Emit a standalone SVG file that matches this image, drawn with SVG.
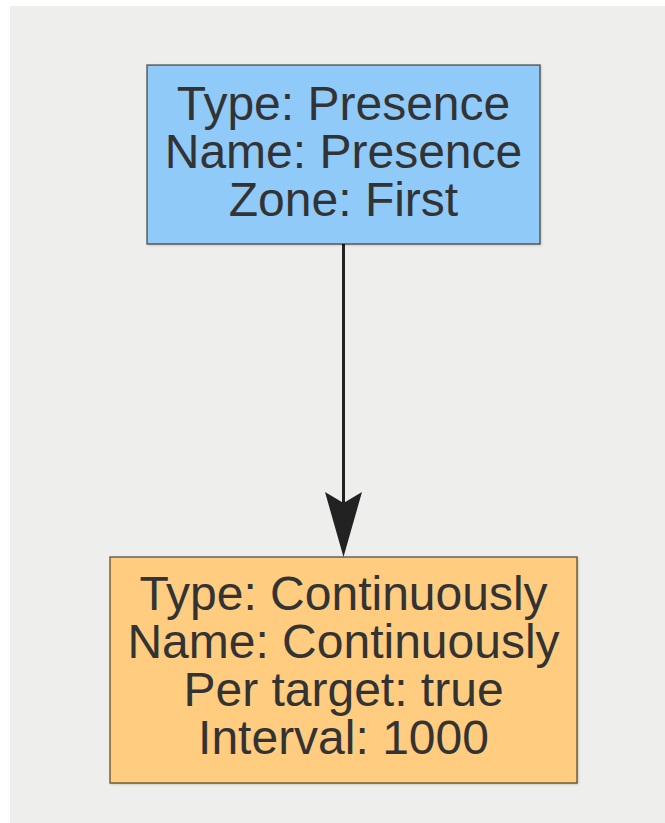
<svg xmlns="http://www.w3.org/2000/svg" width="665" height="823" viewBox="0 0 665 823">
<style>
.bg{fill:#eeeeec}
.node rect{stroke:#000;stroke-opacity:0.55;stroke-width:1.5}
.node text{font-family:"Liberation Sans",Arial,sans-serif;font-size:48px;fill:#333333;text-anchor:middle}
.edge{stroke:#222222;stroke-width:3;fill:none}
</style>
<defs>
<filter id="sh" x="-5%" y="-5%" width="110%" height="110%">
<feDropShadow dx="1" dy="1" stdDeviation="1" flood-color="#000" flood-opacity="0.2"/>
</filter>
</defs>
<rect width="665" height="823" fill="#ffffff"/>
<rect class="bg" x="10" y="6" width="655" height="817"/>
<g id="connectors">
<line class="edge" x1="343.5" y1="244" x2="343.5" y2="545"/>
<polygon points="325,492 343.5,503 362,492 343.5,557" fill="#222222"/>
</g>
<g id="presence" class="node">
<rect x="147" y="65" width="393" height="179" fill="#90caf9" filter="url(#sh)"/>
<text x="343.5" y="120">Type: Presence</text>
<text x="343.5" y="168">Name: Presence</text>
<text x="343.5" y="216">Zone: First</text>
</g>
<g id="continuously" class="node">
<rect x="110" y="557" width="467" height="226" fill="#ffcc80" filter="url(#sh)"/>
<text x="343.5" y="610">Type: Continuously</text>
<text x="343.5" y="658">Name: Continuously</text>
<text x="343.5" y="706">Per target: true</text>
<text x="343.5" y="754">Interval: 1000</text>
</g>
</svg>
